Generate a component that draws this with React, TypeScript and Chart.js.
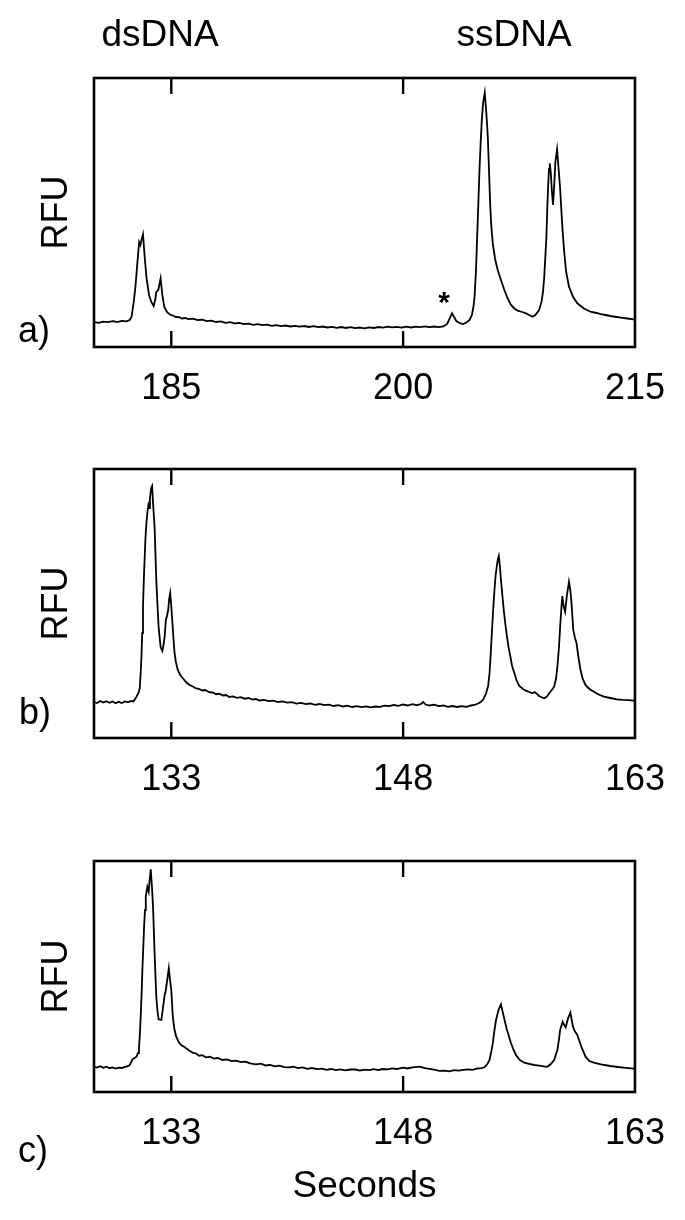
import React, { useEffect, useRef } from 'react';
import { Chart, registerables } from 'chart.js';

Chart.register(...registerables);

const FONT = '"Liberation Sans", Arial, Helvetica, sans-serif';

// ---------- Panel a (dsDNA / ssDNA), seconds 180–215 ----------
const aTimes = [
  180.0, 180.3, 180.6, 180.9, 181.2, 181.5, 181.8, 182.1, 182.3, 182.43, 182.57, 182.68, 182.81, 182.92,
  183.0, 183.09, 183.17, 183.28, 183.39, 183.56, 183.71, 183.86, 183.97, 184.03, 184.16, 184.31, 184.42,
  184.55, 184.72, 184.9, 185.1, 185.3, 185.5, 185.7, 185.9, 186.1, 186.4, 186.7, 187.0, 187.3, 187.6,
  187.9, 188.2, 188.5, 188.8, 189.1, 189.4, 189.7, 190.0, 190.3, 190.6, 190.9, 191.2, 191.5, 191.8,
  192.1, 192.4, 192.7, 193.0, 193.3, 193.6, 193.9, 194.2, 194.5, 194.8, 195.1, 195.4, 195.7, 196.0,
  196.3, 196.6, 196.9, 197.2, 197.5, 197.8, 198.1, 198.4, 198.7, 199.0, 199.3, 199.6, 199.9, 200.2,
  200.5, 200.8, 201.1, 201.4, 201.7, 202.0, 202.3, 202.6, 202.85, 203.0, 203.16, 203.3, 203.44, 203.65,
  203.87, 204.1, 204.3, 204.45, 204.55, 204.62, 204.71, 204.79, 204.87, 204.94, 205.02, 205.09, 205.18,
  205.28, 205.38, 205.48, 205.56, 205.63, 205.7, 205.8, 205.95, 206.12, 206.35, 206.55, 206.75, 206.98,
  207.2, 207.41, 207.7, 207.94, 208.15, 208.37, 208.55, 208.8, 208.95, 209.05, 209.13, 209.2, 209.27,
  209.33, 209.38, 209.44, 209.49, 209.55, 209.63, 209.7, 209.77, 209.85, 209.96, 210.05, 210.15, 210.3,
  210.41, 210.55, 210.73, 211.0, 211.27, 211.7, 212.12, 212.5, 212.8, 213.1, 213.41, 213.8, 214.1,
  214.5, 214.92, 215.0,
];
const aRfu = [
  25.0, 24.2, 25.4, 24.8, 25.8, 25.0, 26.2, 25.6, 26.8, 30, 45, 60, 85, 105,
  102, 108, 112.7, 90, 70, 52, 45, 41, 48, 55, 57, 68.7, 52,
  40, 35, 32.5, 31.5, 30, 29.8, 28.5, 29, 27.8, 28.3, 26.8, 27.4, 25.8, 26.3,
  25, 25.6, 24.2, 24.8, 23.6, 24, 22.8, 23.4, 22.2, 22.8, 21.8, 22.3, 21.2, 21.8,
  20.8, 21.5, 20.5, 21.2, 20.4, 21, 20, 20.8, 19.8, 20.5, 19.5, 20.2, 19.2, 20,
  19, 19.8, 18.8, 19.5, 18.6, 19.6, 19, 20, 19.4, 20.3, 19.6, 20.2, 19.4, 20.3,
  19.5, 20.4, 19.8, 20.6, 19.9, 20.5, 19.8, 20.6, 23, 28, 33.7, 30, 26, 24,
  23, 24.5, 27, 32, 40, 50, 75, 110, 145, 177, 205, 227, 245,
  254.3, 235, 210, 175, 143.7, 122, 103.7, 88, 77, 66, 57, 49, 42,
  38.5, 36.3, 35, 33.7, 32, 30.3, 32, 37, 45, 55, 70, 90, 110,
  140, 160.3, 178, 183.7, 175, 155, 142, 160, 185, 197.7, 180, 160.3, 120.3,
  97, 75, 60.3, 50, 43.7, 38.5, 35.3, 34, 32.8, 32, 31, 30, 29.3,
  28.5, 27.7, 27.5,
];
const aTicks = [185, 200, 215];
const aMarks = [{ t: 202.65, v: 49, text: '*' }];

// ---------- Panel b, seconds 128–163 ----------
const bTimes = [
  128.0, 128.2, 128.4, 128.6, 128.8, 129.0, 129.2, 129.4, 129.6, 129.8, 130.0, 130.2, 130.4, 130.55,
  130.75, 130.9, 130.96, 131.02, 131.07, 131.12, 131.17, 131.22, 131.28, 131.33, 131.39, 131.46, 131.52,
  131.57, 131.62, 131.7, 131.76, 131.82, 131.92, 132.03, 132.1, 132.18, 132.31, 132.42, 132.5, 132.57,
  132.65, 132.72, 132.8, 132.87, 132.93, 133.0, 133.06, 133.14, 133.21, 133.3, 133.42, 133.58, 133.75,
  133.95, 134.18, 134.4, 134.6, 134.82, 135.0, 135.2, 135.45, 135.68, 135.9, 136.1, 136.35, 136.55,
  136.75, 137.0, 137.25, 137.5, 137.75, 138.0, 138.25, 138.47, 138.7, 139.0, 139.3, 139.6, 139.9,
  140.2, 140.5, 140.8, 141.1, 141.4, 141.7, 142.0, 142.3, 142.6, 142.9, 143.2, 143.5, 143.8, 144.1,
  144.4, 144.7, 145.0, 145.3, 145.6, 145.9, 146.2, 146.5, 146.8, 147.1, 147.4, 147.7, 148.0, 148.3,
  148.6, 148.9, 149.15, 149.3, 149.45, 149.7, 150.0, 150.3, 150.6, 150.9, 151.2, 151.5, 151.8, 152.1,
  152.4, 152.62, 152.85, 153.05, 153.2, 153.37, 153.5, 153.59, 153.67, 153.74, 153.82, 153.91, 153.98,
  154.06, 154.13, 154.19, 154.26, 154.33, 154.42, 154.51, 154.62, 154.72, 154.83, 154.94, 155.05, 155.2,
  155.35, 155.52, 155.75, 155.94, 156.15, 156.37, 156.5, 156.59, 156.8, 157.0, 157.13, 157.3, 157.45,
  157.62, 157.77, 157.9, 157.98, 158.08, 158.16, 158.24, 158.3, 158.38, 158.48, 158.6, 158.73, 158.8,
  158.88, 158.95, 159.01, 159.12, 159.22, 159.35, 159.48, 159.62, 159.8, 160.05, 160.34, 160.65, 160.99,
  161.4, 161.84, 162.2, 162.6, 162.92, 163.0,
];
const bRfu = [
  36, 35, 37, 35.5, 36.8, 35.2, 36.5, 34.8, 36.2, 35, 36.6, 35.6, 37, 36.5,
  41.3, 46, 50, 65, 81, 105, 131, 157, 181, 200, 215, 226, 233,
  230, 240, 250, 252, 235, 211, 158, 135, 111, 91, 87, 93, 101,
  118, 122, 128, 140, 145, 132, 118, 100, 85, 76, 68, 63, 59.7,
  56, 53, 51.5, 49.5, 49, 47.5, 48, 45.8, 45.5, 43.8, 44.3, 42.5, 43,
  41, 41.6, 40.2, 40.8, 39.3, 40, 38.4, 39, 37.5, 38.2, 36.8, 37.4, 36,
  36.6, 35.3, 35.8, 34.4, 35.2, 33.8, 34.5, 33.2, 34, 32.8, 33.4, 32, 32.9, 31.5,
  32.3, 31, 31.8, 30.8, 31.6, 30.6, 31.5, 31.2, 32.4, 31.8, 33, 32.2, 33.5, 32.5,
  33.8, 32.8, 34, 36, 33.5, 32.5, 33.3, 31.8, 32.5, 31.2, 32, 31, 31.8, 31.2,
  32.5, 33, 34.5, 36.3, 39, 44.7, 52, 64.7, 85, 104.7, 127, 148, 162,
  171.3, 179, 182, 172, 158, 143, 128, 113, 101.3, 90, 81.3, 72, 64.7,
  57, 52, 49, 47.3, 46, 44.7, 46, 45, 42, 40.5, 39.7, 41.5, 44.7,
  48, 51.3, 60, 71.3, 90, 111.3, 130, 142, 132, 126.3, 143, 156.3, 150,
  138, 122, 108, 100, 94.7, 80, 68, 59, 53, 49, 46.3, 43.5, 41.3,
  40, 38.7, 38.2, 37.8, 37.3, 37,
];
const bTicks = [133, 148, 163];

// ---------- Panel c, seconds 128–163 ----------
const cTimes = [
  128.0, 128.2, 128.4, 128.6, 128.8, 129.0, 129.2, 129.4, 129.6, 129.8, 130.0, 130.2, 130.32, 130.49,
  130.62, 130.75, 130.85, 130.91, 130.97, 131.02, 131.08, 131.13, 131.19, 131.24, 131.3, 131.35, 131.45,
  131.54, 131.6, 131.67, 131.75, 131.82, 131.92, 132.03, 132.1, 132.18, 132.36, 132.5, 132.57, 132.63,
  132.72, 132.84, 132.92, 133.0, 133.1, 133.2, 133.32, 133.48, 133.64, 133.8, 133.96, 134.15, 134.39,
  134.6, 134.8, 135.0, 135.25, 135.5, 135.75, 136.0, 136.32, 136.6, 136.9, 137.2, 137.5, 137.8, 138.1,
  138.47, 138.8, 139.1, 139.4, 139.7, 140.0, 140.3, 140.61, 140.9, 141.2, 141.5, 141.8, 142.1, 142.45,
  142.75, 143.05, 143.35, 143.65, 143.95, 144.25, 144.6, 144.9, 145.2, 145.5, 145.8, 146.1, 146.4,
  146.7, 147.0, 147.3, 147.6, 148.01, 148.3, 148.6, 149.08, 149.4, 149.7, 150.0, 150.35, 150.69, 151.0,
  151.3, 151.6, 151.9, 152.19, 152.5, 152.8, 153.05, 153.27, 153.45, 153.59, 153.7, 153.8, 153.9,
  154.01, 154.17, 154.33, 154.51, 154.72, 154.98, 155.15, 155.3, 155.55, 155.84, 156.15, 156.48, 156.8,
  157.1, 157.34, 157.55, 157.77, 157.98, 158.08, 158.16, 158.32, 158.42, 158.52, 158.67, 158.82, 158.99,
  159.1, 159.27, 159.53, 159.8, 160.05, 160.34, 160.8, 161.41, 161.9, 162.4, 162.92, 163.0,
];
const cRfu = [
  25.3, 24.5, 25.8, 24.2, 25.3, 23.8, 24.6, 23.5, 24.4, 24, 25.2, 25.8, 27, 32.7,
  34, 35.3, 39, 43.7, 58, 75.3, 98, 122, 145, 165.3, 182, 195.3, 205.3,
  200.3, 212, 222.7, 205, 185.3, 138.7, 95.3, 82, 72.7, 72, 88.7, 97, 100.3,
  110, 123.7, 112, 102, 75.3, 63, 55.3, 50, 47, 45.5, 43.7, 41.5, 39.3,
  38.5, 36.2, 36.8, 34.7, 35.2, 33.4, 34, 32, 32.6, 30.8, 31.4, 29.8, 30.4, 28.6,
  27.7, 28.3, 26.5, 27.2, 25.6, 26.3, 24.9, 24.7, 25.3, 23.8, 24.6, 23.2, 24, 22.8,
  23.3, 22.2, 23, 21.8, 22.7, 21.6, 22.5, 22.7, 21.5, 22.4, 21.8, 22.8, 22,
  23, 22.6, 23.6, 23, 24.3, 23.5, 24.6, 25.3, 23.8, 23.2, 22.4, 21.2, 21.3, 20.6,
  21.8, 21.3, 22.2, 22.7, 22.2, 23.5, 23.8, 24.7, 28, 32, 40, 48.7, 61,
  72, 82, 87.7, 75.3, 62, 48.7, 42, 37, 32, 29.3, 28.2, 27, 26.4,
  25.6, 25.3, 28, 32, 42, 52, 62, 70.3, 67, 64.7, 73.7, 79.3, 65.3,
  61, 57, 45.3, 35.3, 31, 29.3, 27.6, 26, 25, 24.2, 23.3, 23.3,
];
const cTicks = [133, 148, 163];

type Mark = { t: number; v: number; text: string };

const framePlugin = {
  id: 'frame',
  afterDraw(chart: any, _args: any, opts: any) {
    const { ctx, chartArea, scales } = chart;
    const { left, top, right, bottom } = chartArea;
    const x = scales.x;
    const y = scales.y;
    ctx.save();
    ctx.strokeStyle = '#000';
    ctx.lineWidth = 2.6;
    ctx.strokeRect(left, top, right - left, bottom - top);
    ctx.lineWidth = 2.4;
    (opts.ticks || []).forEach((v: number) => {
      const px = x.getPixelForValue(v);
      if (px > right - 3 || px < left + 3) return;
      ctx.beginPath();
      ctx.moveTo(px, bottom);
      ctx.lineTo(px, bottom - 16);
      ctx.moveTo(px, top);
      ctx.lineTo(px, top + 16);
      ctx.stroke();
    });
    (opts.marks || []).forEach((m: Mark) => {
      ctx.font = `bold 30px ${FONT}`;
      ctx.fillStyle = '#000';
      ctx.textAlign = 'center';
      ctx.textBaseline = 'alphabetic';
      const mt = ctx.measureText(m.text);
      const dy = (mt.actualBoundingBoxAscent - mt.actualBoundingBoxDescent) / 2;
      ctx.fillText(m.text, x.getPixelForValue(m.t), y.getPixelForValue(m.v) + dy);
    });
    ctx.restore();
  },
};

type PanelProps = {
  times: number[];
  rfu: number[];
  xMin: number;
  xMax: number;
  ticks: number[];
  yMax: number;
  top: number;
  height: number;
  padTop: number;
  padBottom: number;
  xTitle?: string;
  marks?: Mark[];
};

function Panel(p: PanelProps) {
  const ref = useRef<HTMLCanvasElement>(null);
  useEffect(() => {
    if (!ref.current) return;
    const data = p.times.map((t, i) => ({ x: t, y: p.rfu[i] }));
    const chart = new Chart(ref.current, {
      type: 'line',
      data: {
        datasets: [
          {
            data,
            borderColor: '#000',
            borderWidth: 1.8,
            pointRadius: 0,
            tension: 0,
            fill: false,
          },
        ],
      },
      options: {
        animation: false,
        responsive: false,
        devicePixelRatio: 1,
        layout: { padding: { top: p.padTop, bottom: p.padBottom, left: 0, right: 47 } },
        plugins: {
          legend: { display: false },
          tooltip: { enabled: false },
          frame: { ticks: p.ticks, marks: p.marks || [] },
        } as any,
        scales: {
          x: {
            type: 'linear',
            min: p.xMin,
            max: p.xMax,
            afterBuildTicks: (s: any) => {
              s.ticks = p.ticks.map((v) => ({ value: v }));
            },
            grid: { display: false, drawTicks: false },
            border: { display: false },
            ticks: {
              font: { family: FONT, size: 36 },
              color: '#000',
              padding: 20,
              maxRotation: 0,
              autoSkip: false,
              callback: (v: any) => String(v),
            },
            title: p.xTitle
              ? {
                  display: true,
                  text: p.xTitle,
                  font: { family: FONT, size: 37 },
                  color: '#000',
                  padding: { top: -10.4, bottom: 0 },
                }
              : { display: false },
          },
          y: {
            type: 'linear',
            min: 0,
            max: p.yMax,
            ticks: { display: false },
            grid: { display: false, drawTicks: false },
            border: { display: false },
            title: {
              display: true,
              text: 'RFU',
              font: { family: FONT, size: 36 },
              color: '#000',
              padding: { top: 35.4, bottom: 15.4 },
            },
          },
        },
      } as any,
      plugins: [framePlugin],
    });
    return () => chart.destroy();
  }, []);
  return (
    <canvas
      ref={ref}
      width={685}
      height={p.height}
      style={{ position: 'absolute', left: 0, top: p.top, width: 685, height: p.height }}
    />
  );
}

const labelStyle = (x: number, y: number, size: number): React.CSSProperties => ({
  position: 'absolute',
  left: x,
  top: y,
  transform: 'translate(-50%, -50%)',
  fontFamily: FONT,
  fontSize: size,
  lineHeight: 1,
  color: '#000',
  whiteSpace: 'nowrap',
});

export default function App() {
  return (
    <div
      style={{
        position: 'absolute',
        left: 0,
        top: 0,
        width: 685,
        height: 1220,
        background: '#fff',
        overflow: 'hidden',
      }}
    >
      <Panel times={aTimes} rfu={aRfu} xMin={180} xMax={215} ticks={aTicks} yMax={269} top={0} height={440} padTop={78} padBottom={9.8} marks={aMarks} />
      <Panel times={bTimes} rfu={bRfu} xMin={128} xMax={163} ticks={bTicks} yMax={269} top={420} height={420} padTop={49} padBottom={18.8} />
      <Panel times={cTimes} rfu={cRfu} xMin={128} xMax={163} ticks={cTicks} yMax={231} top={820} height={440} padTop={41} padBottom={50.8} xTitle="Seconds" />
      <div style={labelStyle(160, 33, 37)}>dsDNA</div>
      <div style={labelStyle(514, 33, 37)}>ssDNA</div>
      <div style={labelStyle(34, 330, 36)}>a)</div>
      <div style={labelStyle(35, 712, 36)}>b)</div>
      <div style={labelStyle(33, 1150, 36)}>c)</div>
    </div>
  );
}
